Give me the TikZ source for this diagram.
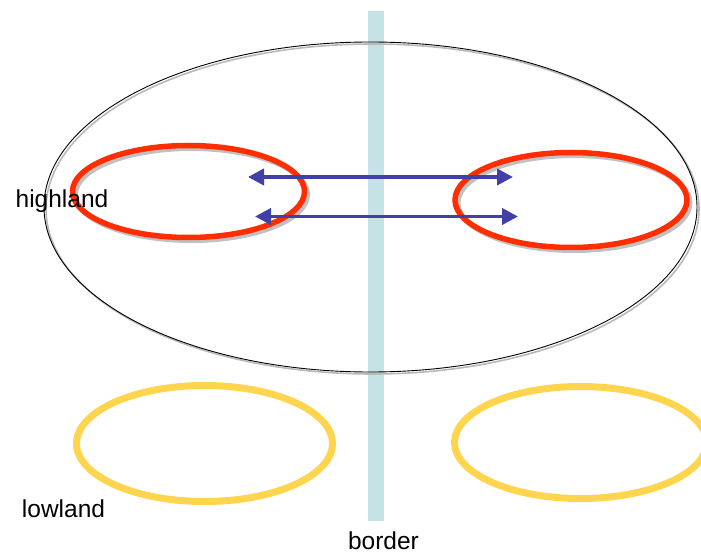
\documentclass[tikz,border=0pt]{standalone}
\usepackage{fontspec}
\setmainfont{Liberation Sans}
\usetikzlibrary{arrows.meta}
\definecolor{barcol}{HTML}{C5E2E6}
\definecolor{redcol}{HTML}{FF2D00}
\definecolor{yelcol}{HTML}{FFD54F}
\definecolor{bluecol}{HTML}{4040A6}
\begin{document}
\begin{tikzpicture}[x=1pt,y=-1pt,
  bigring/.style={draw=black,line width=0.9pt},
  bigshadow/.style={draw=gray!55,line width=1.6pt},
  redring/.style={draw=redcol,line width=5.5pt},
  redshadow/.style={draw=gray!60,line width=5pt,opacity=0.8},
  yelring/.style={draw=yelcol,line width=7pt},
  biarrow/.style={draw=bluecol,line width=3.8pt,{Triangle[length=16pt,width=16pt]}-{Triangle[length=16pt,width=16pt]}},
  lbl/.style={font=\fontsize{24.5}{28}\selectfont,anchor=base,inner sep=0pt}]
\useasboundingbox (0,0) rectangle (701,553);
% border bar
\fill[barcol] (367.7,11) rectangle (383.7,521);
% big ellipse
\draw[bigshadow] (372.5,209) ellipse [x radius=326.5,y radius=165];
\draw[bigring] (370.5,207) ellipse [x radius=326.5,y radius=165];
% red ellipses
\draw[redshadow] (191.5,194.5) ellipse [x radius=116,y radius=46];
\draw[redring] (188.5,191.5) ellipse [x radius=116,y radius=46];
\draw[redshadow] (574,203) ellipse [x radius=116,y radius=47.5];
\draw[redring] (571,200) ellipse [x radius=116,y radius=47.5];
% yellow ellipses
\draw[yelring] (204.5,443.5) ellipse [x radius=128,y radius=58];
\draw[yelring] (580.5,442.5) ellipse [x radius=126,y radius=56];
% arrows
\coordinate (a1l) at (248,177);
\coordinate (a1r) at (513,177);
\coordinate (a2l) at (255,216.5);
\coordinate (a2r) at (518,216.5);
\draw[biarrow] (a1l) -- (a1r);
\draw[biarrow] (a2l) -- (a2r);
% labels
\node[lbl] (highland) at (62,207.5) {highland};
\node[lbl] (lowland) at (63.5,517) {lowland};
\node[lbl] (border) at (383.5,549) {border};
\end{tikzpicture}
\end{document}
